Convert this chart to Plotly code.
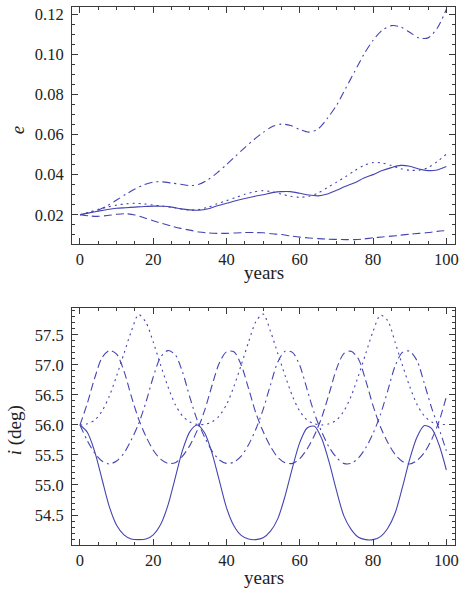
import plotly.graph_objects as go

# ---------------- data: top panel (eccentricity) ----------------
years_e = [0, 2.5, 5, 7.5, 10, 12.5, 15, 17.5, 20, 22.5, 25, 27.5, 30, 32.5, 35, 37.5, 40,
           42.5, 45, 47.5, 50, 52.5, 55, 57.5, 60, 62.5, 65, 67.5, 70, 72.5, 75, 77.5, 80,
           82.5, 85, 87.5, 90, 92.5, 95, 97.5, 100]

e_solid = [0.0200, 0.0209, 0.0218, 0.0226, 0.0232, 0.0235, 0.0238, 0.0241, 0.0243, 0.0242,
           0.0238, 0.0229, 0.0224, 0.0223, 0.0230, 0.0245, 0.0257, 0.0270, 0.0281, 0.0291,
           0.0300, 0.0310, 0.0315, 0.0315, 0.0307, 0.0298, 0.0294, 0.0303, 0.0322, 0.0342,
           0.0360, 0.0383, 0.0400, 0.0420, 0.0435, 0.0446, 0.0442, 0.0428, 0.0420, 0.0423,
           0.0440]

e_dotted = [0.0200, 0.0213, 0.0227, 0.0238, 0.0248, 0.0254, 0.0257, 0.0254, 0.0248, 0.0243,
            0.0237, 0.0230, 0.0223, 0.0226, 0.0238, 0.0255, 0.0270, 0.0286, 0.0302, 0.0314,
            0.0320, 0.0314, 0.0303, 0.0292, 0.0287, 0.0292, 0.0308, 0.0335, 0.0362, 0.0390,
            0.0420, 0.0446, 0.0460, 0.0458, 0.0445, 0.0430, 0.0422, 0.0422, 0.0435, 0.0465,
            0.0502]

e_dashdot = [0.0200, 0.0210, 0.0223, 0.0245, 0.0273, 0.0302, 0.0328, 0.0350, 0.0363, 0.0364,
             0.0358, 0.0352, 0.0345, 0.0352, 0.0375, 0.0410, 0.0450, 0.0493, 0.0535, 0.0575,
             0.0610, 0.0640, 0.0652, 0.0645, 0.0625, 0.0612, 0.0628, 0.0680, 0.0745, 0.0830,
             0.0915, 0.1000, 0.1070, 0.1120, 0.1143, 0.1137, 0.1110, 0.1082, 0.1082, 0.1130,
             0.1225]

e_dashed = [0.0200, 0.0194, 0.0192, 0.0196, 0.0202, 0.0205, 0.0199, 0.0185, 0.0170, 0.0156,
            0.0143, 0.0132, 0.0123, 0.0114, 0.0109, 0.0107, 0.0107, 0.0109, 0.0111, 0.0111,
            0.0110, 0.0105, 0.0101, 0.0094, 0.0088, 0.0084, 0.0081, 0.0078, 0.0077, 0.0076,
            0.0076, 0.0079, 0.0085, 0.0089, 0.0093, 0.0098, 0.0103, 0.0107, 0.0111, 0.0117,
            0.0121]

# ---------------- data: bottom panel (inclination, deg) ----------------
years_i = [0, 2, 4, 6, 8, 10, 12, 14, 16, 18, 20, 22, 24, 26, 28, 30, 32, 34, 36, 38, 40,
           42, 44, 46, 48, 50, 52, 54, 56, 58, 60, 62, 64, 66, 68, 70, 72, 74, 76, 78, 80,
           82, 84, 86, 88, 90, 92, 94, 96, 98, 100]

i_solid = [56.00, 55.88, 55.56, 55.10, 54.64, 54.33, 54.17, 54.10, 54.09, 54.10,
           54.17, 54.34, 54.66, 55.12, 55.58, 55.89, 56.00, 55.87, 55.54, 55.08,
           54.62, 54.32, 54.16, 54.10, 54.09, 54.12, 54.23, 54.44, 54.82, 55.29,
           55.71, 55.95, 55.98, 55.77, 55.38, 54.91, 54.49, 54.26, 54.13, 54.09,
           54.09, 54.14, 54.28, 54.53, 54.96, 55.43, 55.80, 55.99, 55.94, 55.67,
           55.25]

i_dotted = [56.00, 56.02, 56.08, 56.23, 56.48, 56.82, 57.19, 57.56, 57.84, 57.71,
            57.38, 57.00, 56.64, 56.34, 56.15, 56.05, 56.01, 56.01, 56.05, 56.15,
            56.34, 56.64, 57.00, 57.38, 57.72, 57.85, 57.56, 57.19, 56.82, 56.48,
            56.23, 56.08, 56.02, 56.00, 56.02, 56.08, 56.23, 56.48, 56.82, 57.19,
            57.56, 57.83, 57.74, 57.38, 57.00, 56.64, 56.34, 56.15, 56.05, 56.01,
            56.01]

i_dashed = [56.00, 56.36, 56.78, 57.12, 57.24, 57.18, 56.90, 56.48, 56.10, 55.81,
            55.58, 55.43, 55.36, 55.37, 55.48, 55.66, 55.91, 56.24, 56.65, 57.03,
            57.22, 57.22, 57.00, 56.61, 56.20, 55.89, 55.64, 55.46, 55.37, 55.36,
            55.44, 55.60, 55.83, 56.13, 56.52, 56.93, 57.19, 57.23, 57.10, 56.74,
            56.32, 55.97, 55.71, 55.51, 55.39, 55.35, 55.41, 55.54, 55.76, 56.06,
            56.47]

i_dashdot = [56.00, 55.74, 55.53, 55.40, 55.35, 55.40, 55.53, 55.75, 56.02, 56.38,
             56.80, 57.13, 57.24, 57.17, 56.88, 56.46, 56.08, 55.80, 55.57, 55.42,
             55.36, 55.38, 55.48, 55.67, 55.93, 56.26, 56.67, 57.05, 57.23, 57.21,
             56.99, 56.59, 56.19, 55.88, 55.63, 55.46, 55.36, 55.36, 55.45, 55.62,
             55.86, 56.17, 56.57, 56.98, 57.21, 57.23, 57.07, 56.69, 56.28, 55.94,
             55.57]

e_ticks = [0.02, 0.04, 0.06, 0.08, 0.10, 0.12]
i_ticks = [54.5, 55.0, 55.5, 56.0, 56.5, 57.0, 57.5]
year_ticks = [0, 20, 40, 60, 80, 100]

# ---------------- styling ----------------
COLOR = "rgb(68,68,178)"
SERIF = "Liberation Serif"
FRAME = "#3a3a3a"
dashes = {
    "solid": "solid",
    "dotted": "2px,4px",
    "dashed": "8px,4px",
    "dashdot": "8px,4px,2px,4px",
}

fig = go.Figure()

def add(x, y, style, xa, ya):
    fig.add_trace(go.Scatter(
        x=x, y=y, mode="lines", xaxis=xa, yaxis=ya, showlegend=False,
        line=dict(color=COLOR, width=1.1, dash=dashes[style], shape="spline", smoothing=0.8),
        hoverinfo="skip"))

add(years_e, e_solid, "solid", "x", "y")
add(years_e, e_dotted, "dotted", "x", "y")
add(years_e, e_dashdot, "dashdot", "x", "y")
add(years_e, e_dashed, "dashed", "x", "y")

add(years_i, i_solid, "solid", "x2", "y2")
add(years_i, i_dotted, "dotted", "x2", "y2")
add(years_i, i_dashed, "dashed", "x2", "y2")
add(years_i, i_dashdot, "dashdot", "x2", "y2")

tickfont = dict(family=SERIF, size=16.5, color="#222")
titlefont = dict(family=SERIF, size=19, color="#222")

def xaxis(anchor):
    return dict(
        anchor=anchor, domain=[0, 1], range=[-2.18, 102.36],
        tickmode="array", tickvals=year_ticks,
        ticks="inside", ticklen=6, tickcolor=FRAME, tickwidth=1,
        minor=dict(dtick=5, tick0=0, ticks="inside", ticklen=3, tickcolor=FRAME, tickwidth=1),
        showline=True, linecolor=FRAME, linewidth=1, mirror="ticks",
        showgrid=False, zeroline=False, tickfont=tickfont, automargin=False,
    )

def yaxis(anchor, domain, rng, tickvals, fmt, minor_dtick, minor_tick0):
    return dict(
        anchor=anchor, domain=domain, range=rng,
        tickmode="array", tickvals=tickvals, tickformat=fmt,
        ticks="inside", ticklen=6, tickcolor=FRAME, tickwidth=1,
        minor=dict(dtick=minor_dtick, tick0=minor_tick0, ticks="inside", ticklen=3,
                   tickcolor=FRAME, tickwidth=1),
        showline=True, linecolor=FRAME, linewidth=1, mirror="ticks",
        showgrid=False, zeroline=False, tickfont=tickfont, automargin=False,
        ticklabelstandoff=4,
    )

fig.update_layout(
    width=463, height=589,
    margin=dict(l=72, r=8, t=7, b=44),
    paper_bgcolor="white", plot_bgcolor="white",
    xaxis=xaxis("y"),
    yaxis=yaxis("x", [0.5589, 1.0], [0.00524, 0.1236], e_ticks, ".2f", 0.005, 0.0),
    xaxis2=xaxis("y2"),
    yaxis2=yaxis("x2", [0.0, 0.44], [54.0, 57.945], i_ticks, ".1f", 0.1, 54.0),
)

# axis titles as annotations (placed in paper coordinates)
ann = [
    dict(text="years", x=0.5, y=0.5056),
    dict(text="years", x=0.5, y=-0.0595),
    dict(text="<i>e</i>", x=-0.14, y=0.7714, textangle=-90),
    dict(text="<i>i</i> (deg)", x=-0.148, y=0.2138, textangle=-90),
]
for a in ann:
    fig.add_annotation(xref="paper", yref="paper", showarrow=False,
                       xanchor="center", yanchor="middle", font=titlefont, **a)

fig.write_html(
    "out.html",
    config={"displayModeBar": False},
    post_script="document.body.style.margin='0';document.body.style.padding='0';",
)
